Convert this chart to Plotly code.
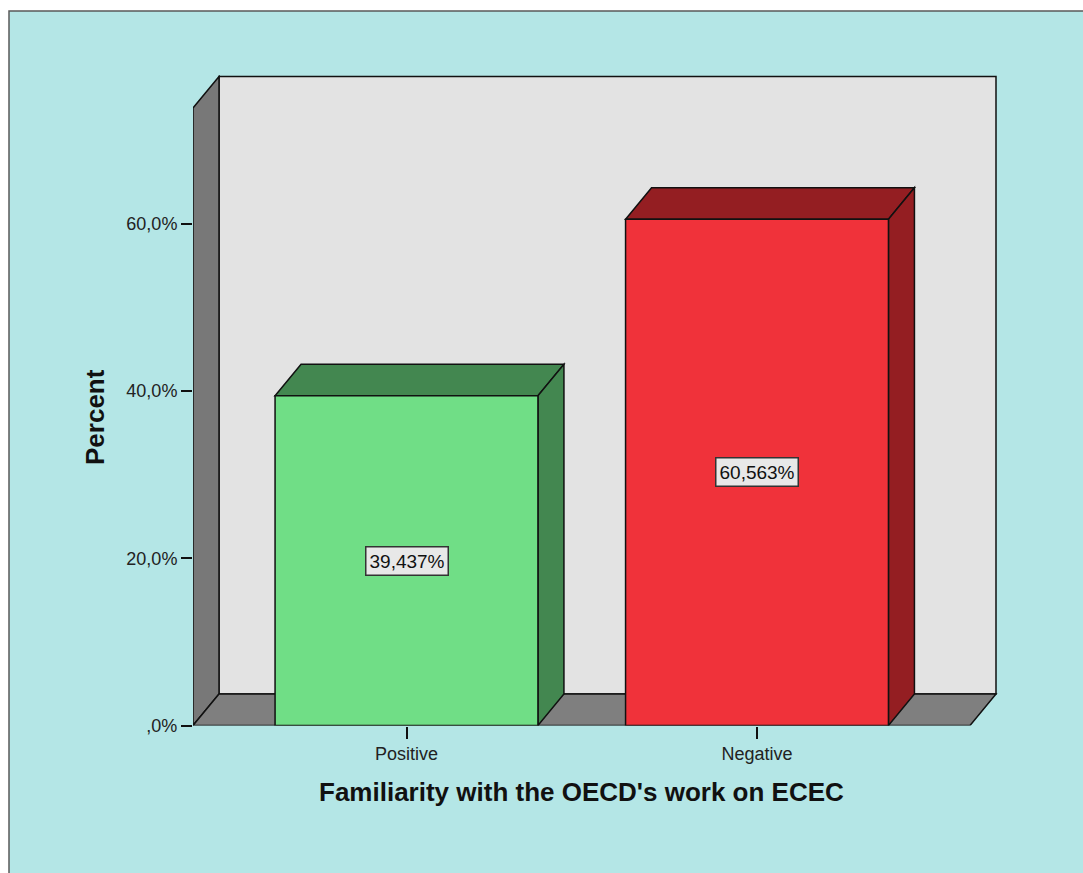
import plotly.graph_objects as go

# ---- data ----
categories = ["Positive", "Negative"]
percents = [39.437, 60.563]
value_labels = ["39,437%", "60,563%"]
front_colors = ["#70DE86", "#F0323A"]
side_colors = ["#438750", "#941E22"]
ytick_vals = [0, 20, 40, 60]
ytick_text = [",0%", "20,0%", "40,0%", "60,0%"]

# ---- geometry (pixel layout of the figure) ----
W, H = 1083, 873
H_EFF = 863.0                    # effective vertical size observed in the renderer
X_PX0, X_PX1 = 193, 998          # plotting domain, px
Y_PX_TOP, Y_PX_BOT = 75, 725.5
PX_PER_CAT = 350.5
CAT0_PX = 406.5
PX_PER_PCT = 8.36
DEPTH_PX_X, DEPTH_PX_Y = 26, 31.5
BAR_W = 0.75

def fy(px):
    return 1 - px / H_EFF

xr = [(X_PX0 - CAT0_PX) / PX_PER_CAT, (X_PX1 - CAT0_PX) / PX_PER_CAT]
yr = [0, (Y_PX_BOT - Y_PX_TOP) / PX_PER_PCT]
dx = DEPTH_PX_X / PX_PER_CAT
dy = DEPTH_PX_Y / PX_PER_PCT

fl_x0 = xr[0]
fl_x1 = (970 - CAT0_PX) / PX_PER_CAT
wall_top = (Y_PX_BOT - 108) / PX_PER_PCT

def path(pts):
    return "M " + " L ".join(f"{x},{y}" for x, y in pts) + " Z"

shapes = []
# background frame
shapes.append(dict(type="rect", xref="paper", yref="paper",
                   x0=9 / W, x1=1.02, y0=-0.03, y1=fy(11),
                   fillcolor="#B4E6E6", line=dict(color="#5a5a5a", width=1.5),
                   layer="below"))
edge = dict(color="#111111", width=1.5)
# back wall
shapes.append(dict(type="path", xref="x", yref="y", layer="below",
                   path=path([(fl_x0 + dx, dy), (fl_x1 + dx, dy),
                              (fl_x1 + dx, wall_top + dy), (fl_x0 + dx, wall_top + dy)]),
                   fillcolor="#E3E3E3", line=edge))
# left wall
shapes.append(dict(type="path", xref="x", yref="y", layer="below",
                   path=path([(fl_x0, 0), (fl_x0, wall_top),
                              (fl_x0 + dx, wall_top + dy), (fl_x0 + dx, dy)]),
                   fillcolor="#787878", line=edge))
# floor
shapes.append(dict(type="path", xref="x", yref="y", layer="below",
                   path=path([(fl_x0, 0), (fl_x1, 0),
                              (fl_x1 + dx, dy), (fl_x0 + dx, dy)]),
                   fillcolor="#7F7F7F", line=edge))

xs = list(range(len(categories)))
# bar top and side faces
for i, v in enumerate(percents):
    l, r = xs[i] - BAR_W / 2, xs[i] + BAR_W / 2
    shapes.append(dict(type="path", xref="x", yref="y", layer="below",
                       path=path([(l, v), (r, v), (r + dx, v + dy), (l + dx, v + dy)]),
                       fillcolor=side_colors[i], line=edge))
    shapes.append(dict(type="path", xref="x", yref="y", layer="below",
                       path=path([(r, 0), (r, v), (r + dx, v + dy), (r + dx, dy)]),
                       fillcolor=side_colors[i], line=edge))

fig = go.Figure()
fig.add_trace(go.Bar(x=xs, y=percents, width=BAR_W,
                     marker=dict(color=front_colors, line=dict(color="#111111", width=1.5)),
                     hoverinfo="skip", showlegend=False))

annotations = []
for i, v in enumerate(percents):
    annotations.append(dict(x=xs[i], y=v / 2, xref="x", yref="y", text=value_labels[i],
                            showarrow=False, font=dict(family="Liberation Sans", size=19, color="#111111"),
                            bgcolor="#E8E8E8", bordercolor="#333333", borderwidth=1.5, borderpad=3))
annotations.append(dict(x=581 / W, y=fy(792), xref="paper", yref="paper",
                        text="<b>Familiarity with the OECD's work on ECEC</b>", showarrow=False,
                        font=dict(family="Liberation Sans", size=26, color="#111111"),
                        xanchor="center", yanchor="middle"))
annotations.append(dict(x=95 / W, y=fy(417), xref="paper", yref="paper",
                        text="<b>Percent</b>", showarrow=False, textangle=-90,
                        font=dict(family="Liberation Sans", size=26, color="#111111"),
                        xanchor="center", yanchor="middle"))

fig.update_layout(
    width=W, height=H, margin=dict(l=0, r=0, t=0, b=0),
    paper_bgcolor="white", plot_bgcolor="rgba(0,0,0,0)",
    shapes=shapes, annotations=annotations, showlegend=False,
    xaxis=dict(domain=[X_PX0 / W, X_PX1 / W], range=xr, showgrid=False, zeroline=False,
               showline=False, ticks="outside", ticklen=12, tickwidth=1.5, tickcolor="#111111",
               tickvals=xs, ticktext=categories,
               tickfont=dict(family="Liberation Sans", size=18, color="#222222")),
    yaxis=dict(domain=[fy(Y_PX_BOT), fy(Y_PX_TOP)], range=yr, showgrid=False,
               zeroline=False, showline=False, ticks="outside", ticklen=11, tickwidth=1.5,
               tickcolor="#111111", tickvals=ytick_vals, ticktext=ytick_text,
               tickfont=dict(family="Liberation Sans", size=18, color="#222222")),
)

fig.write_html("out.html")
